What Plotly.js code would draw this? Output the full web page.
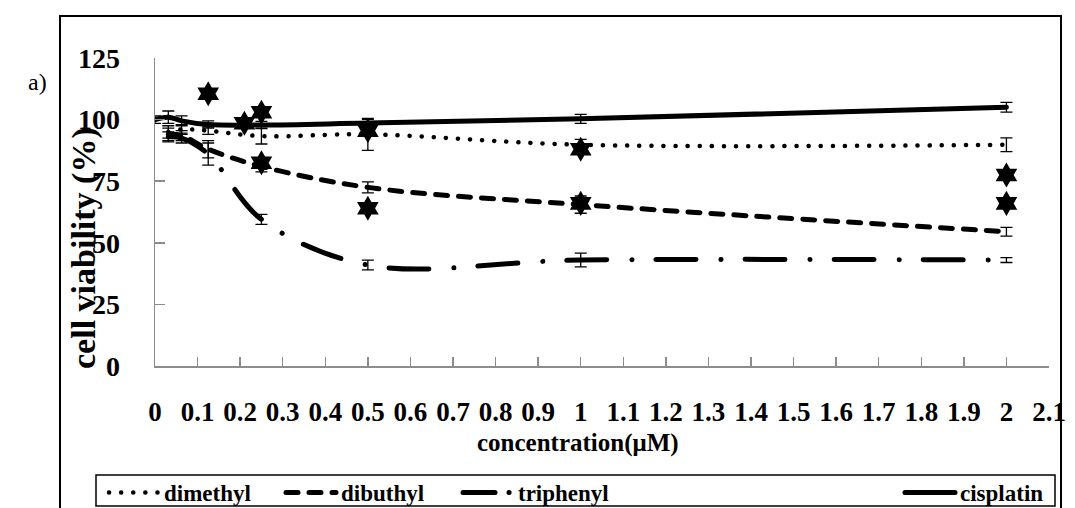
<!DOCTYPE html>
<html>
<head>
<meta charset="utf-8">
<script src="https://cdn.plot.ly/plotly-3.0.1.min.js"></script>
<style>
html,body{margin:0;padding:0;background:#fff;}
#chart{width:1075px;height:508px;}
#chart path.js-line{stroke-linecap:round !important;}
#chart .legend .traces:nth-child(3) path.js-line{stroke-dasharray:32px,14px,0.1px,100px !important;}
</style>
</head>
<body>
<div id="chart"></div>
<script>
// concentrations (µM)
var conc = [0, 0.03125, 0.0625, 0.125, 0.25, 0.5, 1, 2];
// series values (% cell viability)
var dimethyl     = [null, 95, 96, 95.5, 93.3, 94, 89.8, 89.8];
var dimethylErr  = [0, 2.5, 2, 1.5, 3.2, 6.5, 2.2, 2.8];
var dibuthyl     = [null, 94, 93.5, 88, 81, 72.5, 65.5, 54.5];
var dibuthylErr  = [0, 2.5, 2, 3.5, 2.2, 2.2, 3.5, 1.8];
var triphenyl    = [null, 93, 92.5, 86, 59.5, 41, 43, 43];
var triphenylErr = [0, 2, 2, 4.5, 2, 2, 2.8, 1];
var cisplatin    = [100, 101, 99.5, 98, 97.8, 98.6, 100.3, 105];
var cisplatinErr = [1.5, 2.5, 2, 1.5, 1.5, 1.5, 1.8, 2];
// significance stars
var starX = [0.125, 0.21, 0.25, 0.25, 0.5, 0.5, 1, 1, 2, 2];
var starY = [110.5, 98.5, 103, 82.5, 95.5, 64, 88, 66, 77.5, 66];
// axis ticks
var xTickVals = [0,0.1,0.2,0.3,0.4,0.5,0.6,0.7,0.8,0.9,1,1.1,1.2,1.3,1.4,1.5,1.6,1.7,1.8,1.9,2,2.1];
var xTickText = ["0","0.1","0.2","0.3","0.4","0.5","0.6","0.7","0.8","0.9","1","1.1","1.2","1.3","1.4","1.5","1.6","1.7","1.8","1.9","2","2.1"];
var yTickVals = [0, 25, 50, 75, 100, 125];
var yTickText = ["0", "25", "50", "75", "100", "125"];

var FONT = "'Times New Roman', 'Liberation Serif', 'DejaVu Serif', serif";
function err(arr){ return {type:'data', array:arr, visible:true, color:'#000', thickness:1.3, width:6}; }
function b(arr){ return arr.map(function(s){ return '<b>' + s + '</b>'; }); }

var traces = [
  {x:conc, y:dimethyl, name:'<b>dimethyl</b>', mode:'lines', legend:'legend',
   line:{color:'#000', width:4.5, dash:'0.1px,12px', shape:'spline', smoothing:1}, error_y:err(dimethylErr)},
  {x:conc, y:dibuthyl, name:'<b>dibuthyl</b>', mode:'lines', legend:'legend',
   line:{color:'#000', width:5, dash:'12px,11px', shape:'spline', smoothing:1}, error_y:err(dibuthylErr)},
  {x:conc, y:triphenyl, name:'<b>triphenyl</b>', mode:'lines', legend:'legend',
   line:{color:'#000', width:5, dash:'40px,25px,0.1px,24px', shape:'spline', smoothing:1}, error_y:err(triphenylErr)},
  {x:conc, y:cisplatin, name:'<b>cisplatin</b>', mode:'lines', legend:'legend2',
   line:{color:'#000', width:5, shape:'spline', smoothing:1}, error_y:err(cisplatinErr)},
  {x:starX, y:starY, mode:'markers', showlegend:false, hoverinfo:'skip',
   marker:{symbol:'hexagram', size:19, color:'#000'}}
];

var W = 1075, H = 508;
var L = 155, R = 1049, T = 58, B = 366;
function px(x){ return (x - L)/(R - L); }
function py(y){ return (B - y)/(B - T); }
var legFont = {family:FONT, size:23, color:'#000'};

var layout = {
  width:W, height:H,
  margin:{l:L, r:W-R, t:T, b:H-B, pad:0},
  paper_bgcolor:'#fff', plot_bgcolor:'#fff',
  showlegend:true,
  font:{family:FONT, color:'#000'},
  xaxis:{range:[0,2.1], tickmode:'array', tickvals:xTickVals, ticktext:b(xTickText),
    showgrid:false, zeroline:false, showline:true, linecolor:'#8c8c8c', linewidth:1.5,
    ticks:'inside', ticklen:9, tickcolor:'#8c8c8c', tickwidth:1.5, ticklabelstandoff:21,
    tickfont:{family:FONT, size:27, color:'#000'}},
  yaxis:{range:[0,125], tickmode:'array', tickvals:yTickVals, ticktext:b(yTickText),
    showgrid:false, zeroline:false, showline:true, linecolor:'#8c8c8c', linewidth:1.5,
    ticks:'inside', ticklen:10, tickcolor:'#8c8c8c', tickwidth:1.5, ticklabelstandoff:28,
    tickfont:{family:FONT, size:28, color:'#000'}},
  legend:{orientation:'h', xref:'container', yref:'container', x:104/W, xanchor:'left', y:1-471/H, yanchor:'top',
    borderwidth:0, bgcolor:'rgba(0,0,0,0)',
    entrywidth:112, entrywidthmode:'pixels', itemwidth:50, font:legFont},
  legend2:{orientation:'h', xref:'container', yref:'container', x:900/W, xanchor:'left', y:1-471/H, yanchor:'top',
    borderwidth:0, bgcolor:'rgba(0,0,0,0)', itemwidth:50, font:legFont},
  annotations:[
    {xref:'paper', yref:'paper', x:px(84), y:py(248), xanchor:'center', yanchor:'middle',
     text:'<b>cell viability (%)</b>', textangle:-90,
     showarrow:false, font:{family:FONT, size:34, color:'#000'}},
    {xref:'paper', yref:'paper', x:px(578), y:py(443), xanchor:'center', yanchor:'middle',
     text:'<b>concentration(μM)</b>',
     showarrow:false, font:{family:FONT, size:25, color:'#000'}},
    {xref:'paper', yref:'paper', x:px(37), y:py(82), xanchor:'center', yanchor:'middle', text:'a)',
     showarrow:false, font:{family:FONT, size:24, color:'#000'}}
  ],
  shapes:[
    {type:'rect', xref:'paper', yref:'paper', x0:px(60), x1:px(1061), y0:py(530), y1:py(16),
     line:{color:'#000', width:2}, fillcolor:'rgba(0,0,0,0)', layer:'below'},
    {type:'rect', xref:'paper', yref:'paper', x0:px(96), x1:px(1055), y0:py(506), y1:py(475),
     line:{color:'#000', width:1.5}, fillcolor:'rgba(0,0,0,0)', layer:'below'}
  ]
};

Plotly.newPlot('chart', traces, layout, {displayModeBar:false, staticPlot:true});
</script>
</body>
</html>
